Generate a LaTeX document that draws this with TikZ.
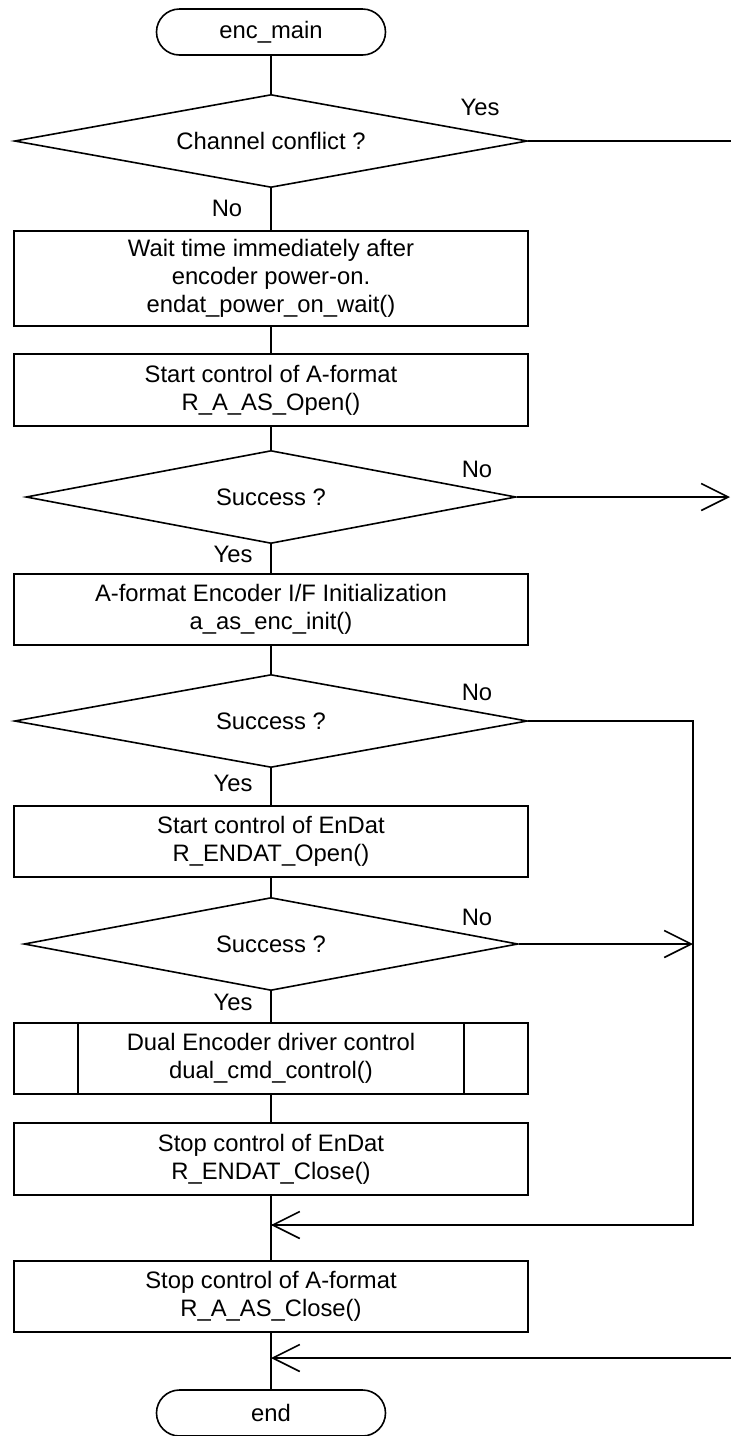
\documentclass[tikz,border=0pt]{standalone}
\usepackage{fontspec}
\setmainfont{Liberation Sans}
\usetikzlibrary{shapes.geometric,arrows.meta}
\begin{document}
\begin{tikzpicture}[x=1pt,y=-1pt,line width=1.6pt,
  every node/.style={font=\fontsize{23.8}{28}\selectfont},
  proc/.style={draw,rectangle,minimum width=514pt,minimum height=72pt,align=center,inner sep=0pt},
  term/.style={draw,rectangle,rounded corners=23pt,minimum width=229pt,minimum height=46pt,inner sep=0pt},
  decision/.style={draw,diamond,aspect=5.5,inner sep=0pt,minimum height=93pt},
  lbl/.style={inner sep=0pt},
  arr/.style={-{Straight Barb[length=27pt,width=27pt]}}]
\useasboundingbox (0,0) rectangle (731,1436);

\node[term] (start) at (271,32) {enc\_main};
\node[decision,minimum width=513pt] (d1) at (271,141) {Channel conflict ?};
\node[proc,minimum height=95pt] (b1) at (271,278.5) {Wait time immediately after\\encoder power-on.\\endat\_power\_on\_wait()};
\node[proc] (b2) at (271,390) {Start control of A-format\\R\_A\_AS\_Open()};
\node[decision,minimum width=490pt] (d2) at (271,497) {Success ?};
\node[proc,minimum height=71pt] (b3) at (271,609.5) {A-format Encoder I/F Initialization\\a\_as\_enc\_init()};
\node[decision,minimum width=513pt] (d3) at (271,721) {Success ?};
\node[proc,minimum height=71pt] (b4) at (271,841.5) {Start control of EnDat\\R\_ENDAT\_Open()};
\node[decision,minimum width=494pt] (d4) at (271,944) {Success ?};
\node[proc,minimum height=71pt] (b5) at (271,1058.5) {Dual Encoder driver control\\dual\_cmd\_control()};
\draw ([xshift=65pt]b5.north west) -- ([xshift=65pt]b5.south west);
\draw ([xshift=-65pt]b5.north east) -- ([xshift=-65pt]b5.south east);
\node[proc] (b6) at (271,1159) {Stop control of EnDat\\R\_ENDAT\_Close()};
\node[proc,minimum height=71pt] (b7) at (271,1296.5) {Stop control of A-format\\R\_A\_AS\_Close()};
\node[term] (end) at (271,1413) {end};

% labels
\node[lbl] (y1) at (480,107) {Yes};
\node[lbl] (n1) at (227,208) {No};
\node[lbl] (n2) at (477,469) {No};
\node[lbl] (y2) at (233,554) {Yes};
\node[lbl] (n3) at (477,692) {No};
\node[lbl] (y3) at (233,783) {Yes};
\node[lbl] (n4) at (477,917) {No};
\node[lbl] (y4) at (233,1002) {Yes};

% coordinates
\coordinate (e1) at (731,141);
\coordinate (e2) at (730,497);
\coordinate (r3) at (693,721);
\coordinate (r4) at (693,944);
\coordinate (m1) at (271,1225);
\coordinate (e3) at (731,1358);
\coordinate (m2) at (271,1358);

% main flow
\draw (start) -- (d1);
\draw (d1) -- (b1);
\draw (b1) -- (b2);
\draw (b2) -- (d2);
\draw (d2) -- (b3);
\draw (b3) -- (d3);
\draw (d3) -- (b4);
\draw (b4) -- (d4);
\draw (d4) -- (b5);
\draw (b5) -- (b6);
\draw (b6) -- (b7);
\draw (b7) -- (end);

% branches
\draw (d1.east) -- (e1);
\draw[arr] (d2.east) -- (e2);
\draw (d3.east) -- (r3) -- (r3 |- m1) -- (m1);
\draw[arr] (r3 |- m1) -- (m1);
\draw[arr] (d4.east) -- (r4);
\draw[arr] (e3) -- (m2);
\end{tikzpicture}
\end{document}
